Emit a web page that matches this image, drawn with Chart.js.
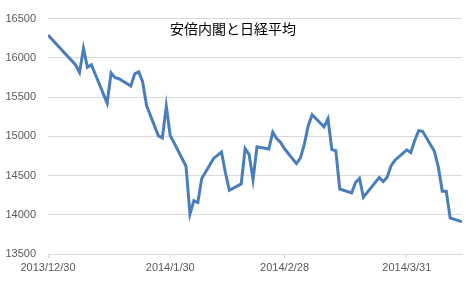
<!DOCTYPE html>
<html>
<head>
<meta charset="utf-8">
<script src="https://cdn.jsdelivr.net/npm/chart.js@4/dist/chart.umd.min.js"></script>
<style>
  html, body { margin: 0; padding: 0; background: #fff; }
  #wrap { width: 474px; height: 285px; }
</style>
</head>
<body>
<div id="wrap"><canvas id="chart"></canvas></div>
<script>
const chartTitle = "安倍内閣と日経平均";

const dates = [
  "2013/12/30",
  "2014/1/6", "2014/1/7", "2014/1/8", "2014/1/9", "2014/1/10",
  "2014/1/14", "2014/1/15", "2014/1/16", "2014/1/17",
  "2014/1/20", "2014/1/21", "2014/1/22", "2014/1/23", "2014/1/24",
  "2014/1/27", "2014/1/28", "2014/1/29", "2014/1/30", "2014/1/31",
  "2014/2/3", "2014/2/4", "2014/2/5", "2014/2/6", "2014/2/7",
  "2014/2/10", "2014/2/12", "2014/2/13", "2014/2/14",
  "2014/2/17", "2014/2/18", "2014/2/19", "2014/2/20", "2014/2/21",
  "2014/2/24", "2014/2/25", "2014/2/26", "2014/2/27", "2014/2/28",
  "2014/3/3", "2014/3/4", "2014/3/5", "2014/3/6", "2014/3/7",
  "2014/3/10", "2014/3/11", "2014/3/12", "2014/3/13", "2014/3/14",
  "2014/3/17", "2014/3/18", "2014/3/19", "2014/3/20",
  "2014/3/24", "2014/3/25", "2014/3/26", "2014/3/27", "2014/3/28",
  "2014/3/31", "2014/4/1", "2014/4/2", "2014/4/3", "2014/4/4",
  "2014/4/7", "2014/4/8", "2014/4/9", "2014/4/10", "2014/4/11",
  "2014/4/14"
];

const closes = [
  16291,
  15909, 15814, 16121, 15880, 15912,
  15422, 15809, 15747, 15734,
  15642, 15796, 15821, 15696, 15392,
  15006, 14980, 15384, 15007, 14915,
  14619, 14008, 14180, 14155, 14462,
  14718, 14800, 14535, 14313,
  14393, 14843, 14767, 14449, 14866,
  14838, 15052, 14971, 14923, 14841,
  14652, 14721, 14898, 15135, 15274,
  15120, 15224, 14830, 14816, 14328,
  14278, 14411, 14463, 14224,
  14475, 14423, 14477, 14623, 14696,
  14828, 14792, 14946, 15072, 15064,
  14809, 14607, 14300, 14300, 13960,
  13910
];

const xTickLabels = ["2013/12/30", "2014/1/30", "2014/2/28", "2014/3/31"];
const yTicks = [13500, 14000, 14500, 15000, 15500, 16000, 16500];

// date axis: days counted from the first date
function dayNum(s) {
  const [y, m, d] = s.split("/").map(Number);
  return Date.UTC(y, m - 1, d) / 86400000;
}
const day0 = dayNum(dates[0]);
const xTickValues = xTickLabels.map((s) => dayNum(s) - day0);
const points = dates.map((s, i) => ({ x: dayNum(s) - day0, y: closes[i] }));

const gridColor = "#d9d9d9";
const textColor = "#595959";
const font = { family: "'Liberation Sans', Arial, sans-serif", size: 11 };

const titlePlugin = {
  id: "innerTitle",
  afterDraw(chart) {
    const ctx = chart.ctx;
    ctx.save();
    ctx.font = "14px 'Noto Sans CJK JP', sans-serif";
    ctx.fillStyle = "#000";
    ctx.textAlign = "center";
    ctx.textBaseline = "middle";
    ctx.fillText(chartTitle, 233, 29);
    ctx.restore();
  }
};

new Chart(document.getElementById("chart"), {
  type: "line",
  data: {
    datasets: [{
      data: points,
      borderColor: "#4a7ebb",
      borderWidth: 3,
      pointRadius: 0,
      tension: 0,
      fill: false
    }]
  },
  plugins: [titlePlugin],
  options: {
    responsive: true,
    maintainAspectRatio: false,
    animation: false,
    layout: { padding: { top: 12, right: 12, left: 0, bottom: 0 } },
    plugins: {
      legend: { display: false },
      tooltip: { enabled: false }
    },
    scales: {
      x: {
        type: "linear",
        min: 0,
        max: dayNum(dates[dates.length - 1]) - day0,
        afterBuildTicks: (scale) => {
          scale.ticks = xTickValues.map((v) => ({ value: v }));
        },
        afterFit: (scale) => { scale.height = 31; },
        ticks: {
          color: textColor,
          font,
          padding: 3,
          maxRotation: 0,
          autoSkip: false,
          callback: (v) => {
            const i = xTickValues.indexOf(v);
            return i >= 0 ? xTickLabels[i] : "";
          }
        },
        grid: {
          drawOnChartArea: false,
          drawTicks: true,
          tickLength: 4,
          color: gridColor
        },
        border: { display: true, color: gridColor }
      },
      y: {
        min: yTicks[0],
        max: yTicks[yTicks.length - 1],
        afterBuildTicks: (scale) => {
          scale.ticks = yTicks.map((v) => ({ value: v }));
        },
        afterFit: (scale) => { scale.width = 48; },
        ticks: {
          color: textColor,
          font,
          padding: 12,
          callback: (v) => String(v)
        },
        grid: { color: gridColor, drawTicks: false },
        border: { display: false }
      }
    }
  }
});
</script>
</body>
</html>
